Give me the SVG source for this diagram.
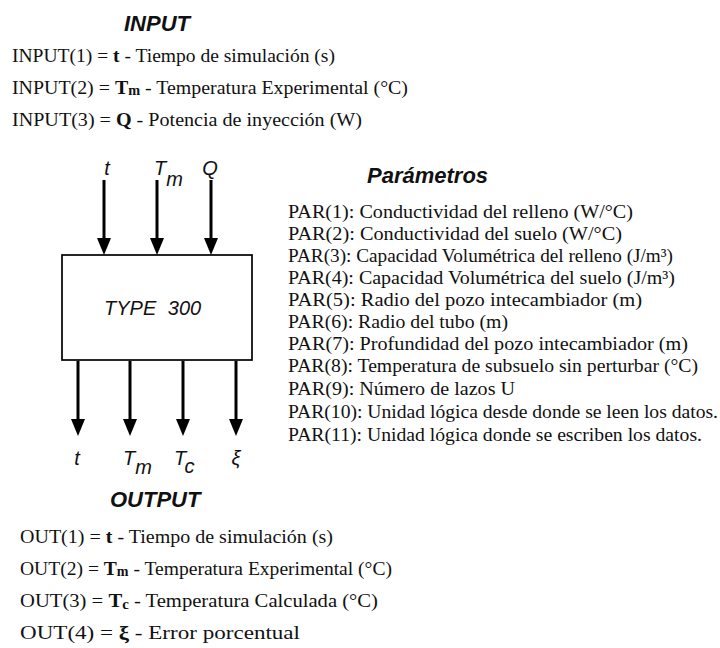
<svg xmlns="http://www.w3.org/2000/svg" width="720" height="648" viewBox="0 0 720 648">
<defs>
<marker id="ah" viewBox="0 0 17 14" refX="11" refY="7" markerWidth="17" markerHeight="14" markerUnits="userSpaceOnUse" orient="auto">
<path d="M0,0 L17,7 L0,14 z" fill="#000"/>
</marker>
<style>
.t{font-family:"Liberation Serif","Times New Roman",serif;font-size:19.5px;fill:#111}
.h{font-family:"Liberation Sans",Arial,sans-serif;font-size:22px;font-style:italic;font-weight:bold;fill:#111}
.l{font-family:"Liberation Sans",Arial,sans-serif;font-size:20px;font-style:italic;fill:#111}
.b{font-weight:bold}
.s{font-size:14px}
.c{stroke:#000;stroke-width:3;fill:none;marker-end:url(#ah)}
.box{fill:#fff;stroke:#000;stroke-width:1.7}
</style>
</defs>
<rect width="720" height="648" fill="#fff"/>

<g id="input-block">
<text class="h" x="124" y="31">INPUT</text>
<text class="t" x="12" y="62" textLength="323" lengthAdjust="spacingAndGlyphs">INPUT(1) = <tspan class="b">t</tspan> - Tiempo de simulación (s)</text>
<text class="t" x="12" y="94" textLength="396" lengthAdjust="spacingAndGlyphs">INPUT(2) = <tspan class="b">T</tspan><tspan class="b s" dy="1">m</tspan><tspan dy="-1"> - Temperatura Experimental (°C)</tspan></text>
<text class="t" x="12" y="126" textLength="350" lengthAdjust="spacingAndGlyphs">INPUT(3) =  <tspan class="b">Q</tspan> - Potencia de inyección (W)</text>
</g>

<g id="connectors">
<line class="c" x1="104" y1="180" x2="104" y2="249"/>
<line class="c" x1="157" y1="180" x2="157" y2="249"/>
<line class="c" x1="211" y1="180" x2="211" y2="249"/>
<line class="c" x1="78" y1="361" x2="78" y2="430"/>
<line class="c" x1="130" y1="361" x2="130" y2="430"/>
<line class="c" x1="183" y1="361" x2="183" y2="430"/>
<line class="c" x1="236" y1="361" x2="236" y2="430"/>
</g>

<g id="type300">
<rect class="box" x="62" y="255" width="190" height="105"/>
<text class="l" x="104" y="315" font-size="22" word-spacing="6">TYPE 300</text>
</g>

<g id="input-labels">
<text class="l" x="107" y="175" text-anchor="middle">t</text>
<text class="l" x="154" y="175">T<tspan dy="11">m</tspan></text>
<text class="l" x="210" y="175" text-anchor="middle">Q</text>
</g>

<g id="output-labels">
<text class="l" x="77" y="465" text-anchor="middle">t</text>
<text class="l" x="123" y="465">T<tspan dy="9">m</tspan></text>
<text class="l" x="174" y="465">T<tspan dy="8">c</tspan></text>
<text class="l" x="236" y="465" text-anchor="middle">ξ</text>
</g>

<g id="parametros">
<text class="h" x="367" y="183">Parámetros</text>
<text class="t" x="288" y="218" textLength="345" lengthAdjust="spacingAndGlyphs">PAR(1):  Conductividad del relleno (W/°C)</text>
<text class="t" x="288" y="240" textLength="334" lengthAdjust="spacingAndGlyphs">PAR(2): Conductividad del suelo (W/°C)</text>
<text class="t" x="288" y="262" textLength="385" lengthAdjust="spacingAndGlyphs">PAR(3):  Capacidad Volumétrica del relleno (J/m³)</text>
<text class="t" x="288" y="284" textLength="387" lengthAdjust="spacingAndGlyphs">PAR(4): Capacidad Volumétrica del suelo (J/m³)</text>
<text class="t" x="288" y="306" textLength="354" lengthAdjust="spacingAndGlyphs">PAR(5): Radio del pozo intecambiador (m)</text>
<text class="t" x="288" y="328" textLength="220" lengthAdjust="spacingAndGlyphs">PAR(6): Radio del tubo (m)</text>
<text class="t" x="288" y="350" textLength="400" lengthAdjust="spacingAndGlyphs">PAR(7):  Profundidad del pozo intecambiador (m)</text>
<text class="t" x="288" y="372" textLength="410" lengthAdjust="spacingAndGlyphs">PAR(8): Temperatura de subsuelo sin perturbar (°C)</text>
<text class="t" x="288" y="395" textLength="227" lengthAdjust="spacingAndGlyphs">PAR(9): Número de lazos U</text>
<text class="t" x="288" y="418" textLength="430" lengthAdjust="spacingAndGlyphs">PAR(10): Unidad lógica desde donde se leen los datos.</text>
<text class="t" x="288" y="441" textLength="414" lengthAdjust="spacingAndGlyphs">PAR(11): Unidad lógica donde se escriben los datos.</text>
</g>

<g id="output-block">
<text class="h" x="110" y="507">OUTPUT</text>
<text class="t" x="20" y="543" textLength="313" lengthAdjust="spacingAndGlyphs">OUT(1) =  <tspan class="b">t</tspan> - Tiempo de simulación (s)</text>
<text class="t" x="20" y="575" textLength="372" lengthAdjust="spacingAndGlyphs">OUT(2) = <tspan class="b">T</tspan><tspan class="b s" dy="1">m</tspan><tspan dy="-1"> - Temperatura Experimental (°C)</tspan></text>
<text class="t" x="20" y="607" textLength="358" lengthAdjust="spacingAndGlyphs">OUT(3) = <tspan class="b">T</tspan><tspan class="b s" dy="2">c</tspan><tspan dy="-2"> - Temperatura Calculada (°C)</tspan></text>
<text class="t" x="20" y="639" textLength="280" lengthAdjust="spacingAndGlyphs">OUT(4) = <tspan class="b">ξ</tspan> - Error porcentual</text>
</g>
</svg>
